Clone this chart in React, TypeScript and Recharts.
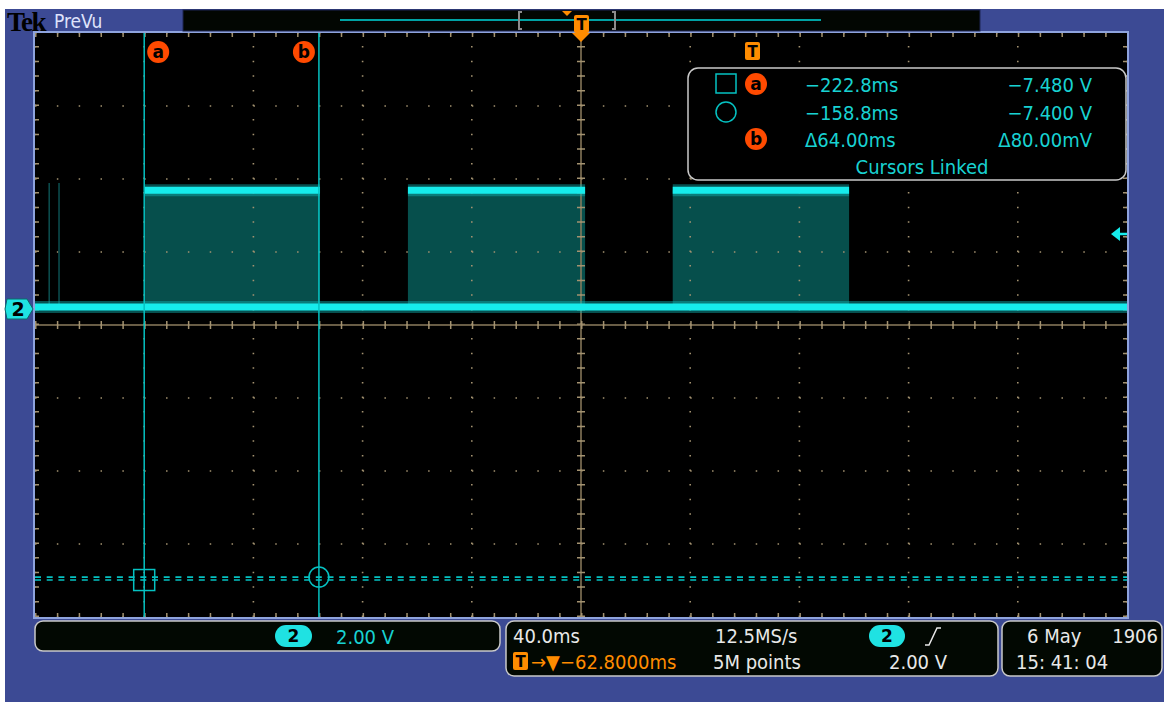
import React from 'react';
import { ComposedChart, Area, Line, XAxis, YAxis, ReferenceLine, ReferenceDot } from 'recharts';

// 40 ms/div over 10 divisions, window centred on the -62.8 ms trigger delay
const timeWindow = [-262.8, 137.2];
const msPerDiv = 40;
// 2.00 V/div over 8 divisions, channel 2 ground a little above centre
const voltWindow = [-8.493, 7.507];
const voltPerDiv = 2;

// bursts seen on channel 2 (ms) and their top level (V)
const burstStart = [-222.6, -126.2, -29.2];
const burstEnd = [-158.4, -61.3, 35.4];
const burstHigh = [3.2, 3.2, 3.2];
const baseLevel = 0;

// two faint glitches at the very left of the record
const glitchTimes = [-257.6, -254.0];
const glitchHigh = [3.4, 3.4];

const cursorTimes = [-222.8, -158.8];
const cursorVolts = [-7.48, -7.4];
const triggerLevel = 2.0;

const readoutRows = [
  ['\u2212222.8ms', '\u22127.480 V'],
  ['\u2212158.8ms', '\u22127.400 V'],
  ['\u039464.00ms', '\u039480.00mV'],
];

const xMajor = Array.from({ length: 11 }, (_, k) => timeWindow[0] + k * msPerDiv);
const yMajor = Array.from({ length: 9 }, (_, k) => voltWindow[0] + k * voltPerDiv);
const xCenter = timeWindow[0] + 5 * msPerDiv;
const yCenter = voltWindow[0] + 4 * voltPerDiv;

const burstRows = burstStart.flatMap((s, i) => [
  { t: s, band: [baseLevel, burstHigh[i]], top: burstHigh[i] },
  { t: burstEnd[i], band: [baseLevel, burstHigh[i]], top: burstHigh[i] },
  { t: burstEnd[i], band: null, top: null },
]);
const baseRows = [
  { t: timeWindow[0], v: baseLevel },
  { t: timeWindow[1], v: baseLevel },
];
const glitchRows = glitchTimes.flatMap((t, i) => [
  { t, g: baseLevel },
  { t, g: glitchHigh[i] },
  { t, g: null },
]);

const GRID = '#a39270';
const AXIS = '#8d7d5e';
const TRACE = '#16ecec';
const HALO = '#0fb4b4';
const FILL = '#064f4c';
const CURSOR = '#05c2c2';
const ORANGE = '#ff8c00';
const RED = '#ff4a00';
const FONT = '"DejaVu Sans Condensed", "Liberation Sans Narrow", "DejaVu Sans", sans-serif';

const X_DOT = '1.5 20.34'; // one dot per minor division (21.84 px)
const Y_DOT = '1.5 13.1'; // one dot per minor division (14.6 px)

const CursorTag = ({ cx, cy, label, dx }: any) => (
  <g>
    <circle cx={cx + dx} cy={cy + 19} r={11} fill={RED} />
    <text x={cx + dx} y={cy + 25} textAnchor="middle" fontSize={17} fontWeight="bold" fontFamily="DejaVu Sans, sans-serif" fill="#000">{label}</text>
  </g>
);

const Badge = ({ x, y, w, h, label, fill, size }: any) => (
  <g>
    <rect x={x} y={y} width={w} height={h} rx={h / 2} fill={fill} />
    <text x={x + w / 2} y={y + h / 2 + size * 0.36} textAnchor="middle" fontSize={size} fontWeight="bold" fontFamily="DejaVu Sans, sans-serif" fill="#000">{label}</text>
  </g>
);

const TBadge = ({ x, y }: any) => (
  <g>
    <rect x={x} y={y} width={15} height={18} rx={2} fill={ORANGE} />
    <text x={x + 7.5} y={y + 15} textAnchor="middle" fontSize={15} fontWeight="bold" fontFamily="DejaVu Sans, sans-serif" fill="#000">T</text>
  </g>
);

export default function App() {
  return (
    <div style={{ position: 'absolute', left: 0, top: 0, width: 1164, height: 702, background: '#fff', overflow: 'hidden' }}>
      <div style={{ position: 'absolute', left: 5, top: 9, width: 1159, height: 693, background: '#3c4a94' }} />
      <div style={{ position: 'absolute', left: 33, top: 31, width: 1096, height: 588, background: '#8ea3dd' }} />
      <div style={{ position: 'absolute', left: 35, top: 33, width: 1092, height: 584, background: '#000' }} />
      <ComposedChart
        width={1092}
        height={584}
        margin={{ top: 0, right: 0, bottom: 0, left: 0 }}
        style={{ position: 'absolute', left: 35, top: 33 }}
      >
        <XAxis type="number" dataKey="t" domain={timeWindow} allowDataOverflow height={0} tick={false} axisLine={false} tickLine={false} />
        <YAxis type="number" domain={voltWindow} allowDataOverflow width={0} tick={false} axisLine={false} tickLine={false} />

        {/* graticule: dotted major lines, ticked centre lines and borders */}
        {xMajor.map((x) => (
          <ReferenceLine key={'gx' + x} x={x} stroke={GRID} strokeWidth={1.6} strokeDasharray={Y_DOT} ifOverflow="extendDomain" />
        ))}
        {yMajor.map((y) => (
          <ReferenceLine key={'gy' + y} y={y} stroke={GRID} strokeWidth={1.6} strokeDasharray={X_DOT} ifOverflow="extendDomain" />
        ))}
        <ReferenceLine x={xCenter} stroke={AXIS} strokeWidth={1.5} />
        <ReferenceLine x={xCenter} stroke={GRID} strokeWidth={8} strokeDasharray={Y_DOT} />
        <ReferenceLine y={yCenter} stroke={AXIS} strokeWidth={1.5} />
        <ReferenceLine y={yCenter} stroke={GRID} strokeWidth={8} strokeDasharray={X_DOT} />
        {timeWindow.map((x) => (
          <ReferenceLine key={'ex' + x} x={x} stroke={GRID} strokeWidth={8} strokeDasharray={Y_DOT} />
        ))}
        {voltWindow.map((y) => (
          <ReferenceLine key={'ey' + y} y={y} stroke={GRID} strokeWidth={8} strokeDasharray={X_DOT} />
        ))}

        <Line data={glitchRows} dataKey="g" stroke="#0c4f50" strokeWidth={1.5} dot={false} activeDot={false} connectNulls={false} isAnimationActive={false} />
        <Area data={burstRows} dataKey="band" type="linear" fill={FILL} fillOpacity={1} stroke="none" connectNulls={false} dot={false} activeDot={false} isAnimationActive={false} />
        <Line data={baseRows} dataKey="v" stroke={HALO} strokeOpacity={0.45} strokeWidth={12} dot={false} activeDot={false} isAnimationActive={false} />
        <Line data={burstRows} dataKey="top" stroke={HALO} strokeOpacity={0.45} strokeWidth={12} strokeLinecap="butt" dot={false} activeDot={false} connectNulls={false} isAnimationActive={false} />
        <Line data={baseRows} dataKey="v" stroke={TRACE} strokeWidth={7} dot={false} activeDot={false} isAnimationActive={false} />
        <Line data={burstRows} dataKey="top" stroke={TRACE} strokeWidth={7} strokeLinecap="butt" dot={false} activeDot={false} connectNulls={false} isAnimationActive={false} />

        {cursorVolts.map((v) => (
          <ReferenceLine key={'cv' + v} y={v} stroke={CURSOR} strokeWidth={1.6} strokeDasharray="6 5.7" />
        ))}
        {cursorTimes.map((t) => (
          <ReferenceLine key={'ct' + t} x={t} stroke={CURSOR} strokeWidth={1.5} />
        ))}
        <ReferenceDot x={cursorTimes[0]} y={cursorVolts[0]} r={10}
          shape={(p: any) => <rect x={p.cx - 10.5} y={p.cy - 10.5} width={21} height={21} fill="none" stroke={CURSOR} strokeWidth={1.5} />} />
        <ReferenceDot x={cursorTimes[1]} y={cursorVolts[1]} r={10} fill="none" stroke={CURSOR} strokeWidth={1.5} />
        <ReferenceDot x={cursorTimes[0]} y={voltWindow[1]} r={1}
          shape={(p: any) => <CursorTag cx={p.cx} cy={p.cy} label="a" dx={14} />} />
        <ReferenceDot x={cursorTimes[1]} y={voltWindow[1]} r={1}
          shape={(p: any) => <CursorTag cx={p.cx} cy={p.cy} label="b" dx={-15} />} />
        <ReferenceDot x={timeWindow[1]} y={triggerLevel} r={1}
          shape={(p: any) => (
            <g>
              <polygon points={`${p.cx - 16},${p.cy} ${p.cx - 7},${p.cy - 7} ${p.cx - 7},${p.cy + 7}`} fill={TRACE} />
              <line x1={p.cx - 8} y1={p.cy} x2={p.cx} y2={p.cy} stroke={TRACE} strokeWidth={2.5} />
            </g>
          )} />
      </ComposedChart>

      <svg width={1164} height={702} style={{ position: 'absolute', left: 0, top: 0, pointerEvents: 'none' }}>
        {/* title bar */}
        <text x={7} y={31} fontSize={27} fontWeight="bold" fontFamily='"Liberation Serif", serif' letterSpacing={-1.5} fill="#000">Tek</text>
        <text x={54} y={28} fontSize={19} fontFamily={FONT} fill="#dfe2fb">PreVu</text>
        <rect x={183} y={10} width={797} height={21} fill="#020602" stroke="#1c2552" />
        <line x1={340} y1={20} x2={821} y2={20} stroke="#00a3a3" strokeWidth={2} />
        <path d="M522 12 L519 12 L519 29 L522 29" fill="none" stroke="#8c8c8c" strokeWidth={2} />
        <path d="M612 12 L615 12 L615 29 L612 29" fill="none" stroke="#8c8c8c" strokeWidth={2} />
        <polygon points="562,11 572,11 567,16" fill={ORANGE} />
        <TBadge x={574} y={15} />
        <polygon points="572,33 590,33 581,42" fill={ORANGE} />

        {/* channel 2 ground tag */}
        <polygon points="7,299 27,299 33,309 27,319 7,319 5,309" fill="#1fe2e2" stroke="#0a6a6a" />
        <text x={18} y={316} textAnchor="middle" fontSize={19} fontWeight="bold" fontFamily="DejaVu Sans, sans-serif" fill="#000">2</text>

        {/* cursor readout */}
        <TBadge x={745} y={42} />
        <rect x={688} y={68} width={438} height={112} rx={10} fill="#000" stroke="#c9c9c9" strokeWidth={1.5} />
        <rect x={716} y={74} width={20} height={19} fill="none" stroke={CURSOR} strokeWidth={1.5} />
        <circle cx={726} cy={112} r={10} fill="none" stroke={CURSOR} strokeWidth={1.5} />
        <circle cx={756} cy={84} r={11} fill={RED} />
        <text x={756} y={90} textAnchor="middle" fontSize={17} fontWeight="bold" fontFamily="DejaVu Sans, sans-serif" fill="#000">a</text>
        <circle cx={756} cy={139} r={11} fill={RED} />
        <text x={756} y={145} textAnchor="middle" fontSize={17} fontWeight="bold" fontFamily="DejaVu Sans, sans-serif" fill="#000">b</text>
        {readoutRows.map((r, i) => (
          <g key={i} fontFamily={FONT} fontSize={20} fill="#18d2d2">
            <text x={805} y={92 + i * 27.5}>{r[0]}</text>
            <text x={1092} y={92 + i * 27.5} textAnchor="end">{r[1]}</text>
          </g>
        ))}
        <text x={922} y={174} textAnchor="middle" fontFamily={FONT} fontSize={20} fill="#18d2d2">Cursors Linked</text>

        {/* status boxes */}
        <rect x={35} y={621} width={465} height={30} rx={8} fill="#020802" stroke="#c9c9c9" strokeWidth={1.5} />
        <Badge x={275} y={625} w={37} h={22} label="2" fill="#1fe2e2" size={17} />
        <text x={336} y={644} fontFamily={FONT} fontSize={20} fill="#18d2d2">2.00 V</text>

        <rect x={506} y={621} width={492} height={55} rx={8} fill="#020802" stroke="#c9c9c9" strokeWidth={1.5} />
        <g fontFamily={FONT} fontSize={20} fill="#e8e8e8">
          <text x={513} y={643}>40.0ms</text>
          <text x={715} y={643}>12.5MS/s</text>
          <text x={713} y={669}>5M points</text>
          <text x={889} y={669}>2.00 V</text>
        </g>
        <Badge x={869} y={625} w={36} h={22} label="2" fill="#1fe2e2" size={17} />
        <path d="M925 645 L929 645 L937 628 L941 628" fill="none" stroke="#e8e8e8" strokeWidth={1.5} />
        <TBadge x={513} y={652} />
        <text x={531} y={669} fontFamily={FONT} fontSize={20} fill={ORANGE}>{'\u2192\u25BC\u221262.8000ms'}</text>

        <rect x={1002} y={621} width={160} height={55} rx={8} fill="#020802" stroke="#c9c9c9" strokeWidth={1.5} />
        <g fontFamily={FONT} fontSize={20} fill="#e8e8e8">
          <text x={1027} y={643}>6 May</text>
          <text x={1158} y={643} textAnchor="end">1906</text>
          <text x={1016} y={669}>15: 41: 04</text>
        </g>
      </svg>
    </div>
  );
}
